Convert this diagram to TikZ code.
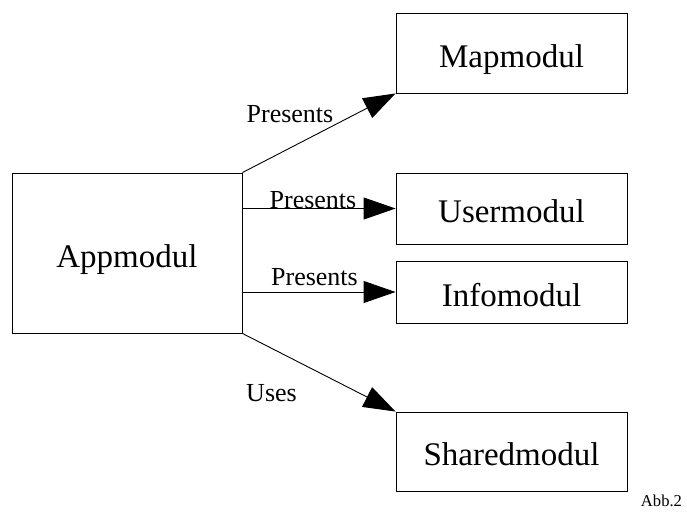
\documentclass[tikz,border=0pt]{standalone}
\usepackage{fontspec}
\setmainfont{Liberation Serif}
\usetikzlibrary{arrows.meta, positioning}

\begin{document}
\begin{tikzpicture}
  [
    x=1pt, y=-1pt,
    modul/.style={draw, line width=0.9pt, minimum width=231pt, inner sep=0pt,
      text height=28pt, text depth=0pt, font=\fontsize{33}{36}\selectfont},
    rel/.style={-{Triangle[length=32pt, width=22pt]}, line width=0.9pt},
    rellabel/.style={anchor=base, inner sep=0pt, font=\fontsize{26}{28}\selectfont}
  ]
  \useasboundingbox (0,0) rectangle (687,511);

  % modules
  \node[modul, minimum width=230pt, minimum height=160pt] (app) at (127,253) {Appmodul};
  \node[modul, minimum height=80pt] (map) at (511.5,53) {Mapmodul};
  \node[modul, minimum height=71pt] (user) at (511.5,208.5) {Usermodul};
  \node[modul, minimum height=62pt] (info) at (511.5,292) {Infomodul};
  \node[modul, minimum height=79pt] (shared) at (511.5,451.5) {Sharedmodul};

  % relations
  \draw[rel] (app.north east) -- (map.south west);
  \draw[rel] (app.east |- user.west) -- (user.west);
  \draw[rel] (app.east |- info.west) -- (info.west);
  \draw[rel] (app.south east) -- (shared.north west);

  \node[rellabel] (pmap) at (290,122) {Presents};
  \node[rellabel] (puser) at (313,208) {Presents};
  \node[rellabel] (pinfo) at (314.5,285) {Presents};
  \node[rellabel] (uses) at (271.5,401) {Uses};

  \node[anchor=base, inner sep=0pt, font=\fontsize{16.6}{18}\selectfont] (abb) at (661.5,506) {Abb.2};
\end{tikzpicture}
\end{document}
